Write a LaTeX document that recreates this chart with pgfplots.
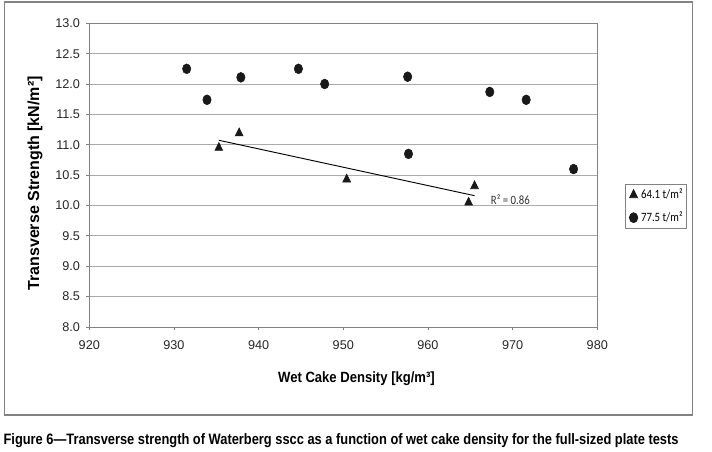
\documentclass[border=0pt]{standalone}
\usepackage{graphicx}
\usepackage{fontspec}
\setmainfont{Liberation Sans}
\newfontfamily\calib{Carlito}[FakeStretch=0.85]
\newfontfamily\narrowfont{Liberation Sans}[FakeStretch=0.88]
\usepackage{pgfplots}
\pgfplotsset{compat=1.18}
\definecolor{gridc}{RGB}{170,170,170}
\definecolor{framec}{RGB}{130,130,130}
\definecolor{markc}{RGB}{25,25,25}
\begin{document}
\begin{tikzpicture}[x=0.75pt,y=0.75pt]
\useasboundingbox (0,0) rectangle (712,451);
\draw[framec, line width=0.8pt] (4.7,449) rectangle (692.7,36);
\coordinate (AX) at (89.3,124);
\begin{axis}[
  at={(AX)}, anchor=south west,
  scale only axis, width=381pt, height=227.8pt,
  xmin=920, xmax=980, ymin=8, ymax=13,
  xtick distance=10, ytick distance=0.5,
  tick pos=left, tick align=outside,
  major tick length=2.25pt,
  every tick/.style={framec, line width=0.6pt},
  axis line style={framec, line width=0.6pt},
  ymajorgrids, grid style={gridc, line width=0.6pt},
  /pgf/number format/assume math mode=true,
  /pgf/number format/1000 sep={},
  ticklabel style={font=\fontsize{9.5}{11}\selectfont, text=black!85},
  yticklabel style={/pgf/number format/fixed, /pgf/number format/fixed zerofill, /pgf/number format/precision=1, anchor=east, inner sep=0pt, xshift=-4.5pt},
  xticklabel style={anchor=north, inner sep=0pt, yshift=-7.5pt},
  legend style={at={(1.0545,0.471)}, anchor=north west, draw=framec, line width=0.6pt,
    font=\calib\fontsize{9.5}{11}\selectfont, inner xsep=3pt, inner ysep=3.5pt,
    row sep=8pt, column sep=0pt,
    nodes={inner sep=0pt, text height=7pt, text depth=2pt}},
  legend cell align=left,
  legend image code/.code={\draw[#1] plot coordinates {(0pt,0pt)};},
  /tikz/every odd column/.style={column sep=2.5pt},
]
\addplot[only marks, mark=triangle*, mark size=4pt, color=markc, mark options={xscale=0.85}]
  coordinates {(935.3,10.95) (937.7,11.19) (950.4,10.43) (964.8,10.05) (965.5,10.32)};
\addlegendentry{64.1 t/m²}
\addplot[only marks, mark=*, mark size=3.7pt, color=markc, mark options={xscale=0.85}]
  coordinates {(931.5,12.25) (933.9,11.74) (937.9,12.11) (944.7,12.25) (947.8,12.00)
               (957.6,12.12) (957.7,10.85) (967.3,11.87) (971.6,11.74) (977.2,10.60)};
\addlegendentry{77.5 t/m²}
\addplot[black, line width=0.7pt, forget plot] coordinates {(935.3,11.074) (965.5,10.162)};
\end{axis}
\node[anchor=west, inner sep=0pt, text=black!80] at (490.7,251) {\calib\fontsize{9.5}{11}\selectfont R² = 0.86};
\node[rotate=90, anchor=base, inner sep=0pt] at (39,267.6) {\fontsize{12}{14}\selectfont\bfseries Transverse Strength [kN/m²]};
\node[anchor=base, inner sep=0pt] at (356.5,68.7) {\resizebox{117.5pt}{!}{\narrowfont\fontsize{11.25}{13}\selectfont\bfseries Wet Cake Density [kg/m³]}};
\node[anchor=base west, inner sep=0pt] at (3.3,7) {\resizebox{506.25pt}{8.2pt}{\bfseries Figure 6—Transverse strength of Waterberg sscc as a function of wet cake density for the full-sized plate tests}};
\end{tikzpicture}
\end{document}
